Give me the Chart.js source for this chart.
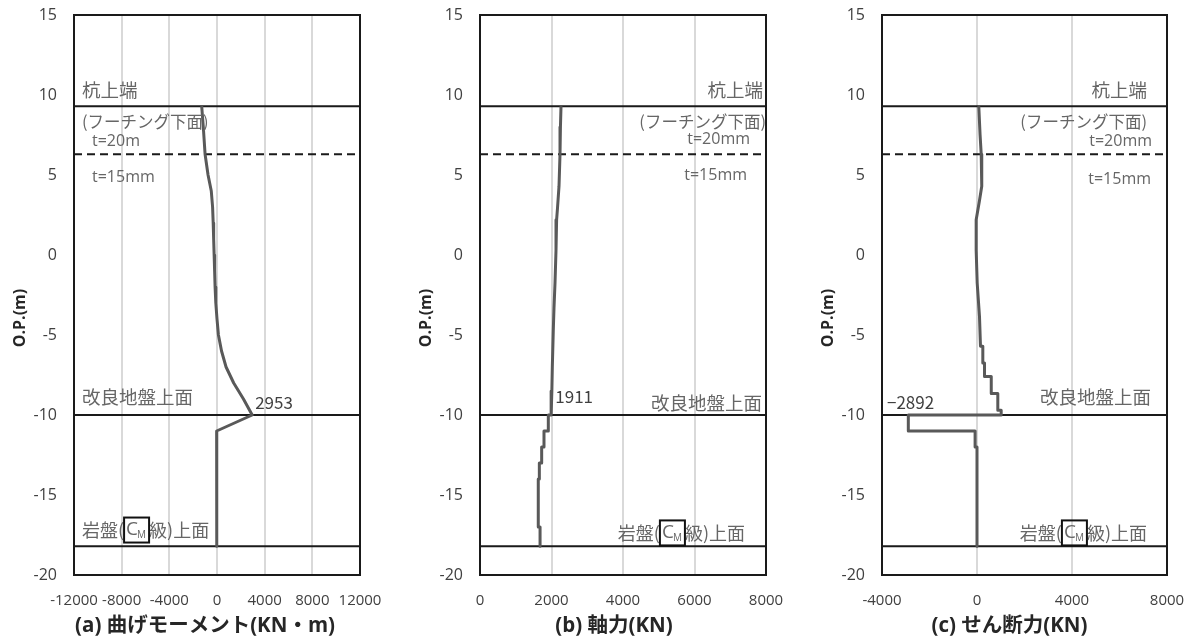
<!DOCTYPE html>
<html><head><meta charset="utf-8">
<script src="https://cdn.jsdelivr.net/npm/chart.js@4.4.1/dist/chart.umd.min.js"></script>
<style>
html,body{margin:0;padding:0;background:#fff;}
#wrap{position:relative;width:1201px;height:641px;overflow:hidden;}
.c{position:absolute;top:0;height:641px;}
</style></head><body>
<div id="wrap">
<div class="c" style="left:0;width:400px"><canvas id="ca"></canvas></div>
<div class="c" style="left:400px;width:400px"><canvas id="cb"></canvas></div>
<div class="c" style="left:800px;width:401px"><canvas id="cc"></canvas></div>
</div>
<script>
// ---- data ----
const yTicks = [-20, -15, -10, -5, 0, 5, 10, 15];
const xTicksA = [-12000, -8000, -4000, 0, 4000, 8000, 12000];
const xTicksB = [0, 2000, 4000, 6000, 8000];
const xTicksC = [-4000, 0, 4000, 8000];

// (a) bending moment
const elevA = [9.3, 8.0, 6.3, 5.0, 4.0, 3.0, 2.0, 1.0, 0.0, -1.0, -2.0, -3.0, -4.0, -5.0, -6.0, -7.0, -8.0, -9.0, -10.0, -11.0, -12.0, -18.2];
const momentA = [-1285, -1150, -1000, -750, -480, -370, -320, -280, -240, -200, -160, -100, 0, 120, 380, 760, 1400, 2220, 2953, -30, -20, -20];

// (b) axial force
const elevB = [9.3, 8.0, 6.3, 4.3, 3.0, 2.2, 0.3, -1.75, -3.3, -4.7, -7.0, -8.5, -10.0, -10.0, -11.0, -11.0, -12.0, -12.0, -13.0, -13.0, -14.0, -14.0, -17.0, -17.0, -18.2];
const axialB = [2266, 2250, 2238, 2210, 2170, 2143, 2126, 2098, 2070, 2050, 2023, 2010, 1990, 1911, 1911, 1790, 1790, 1725, 1725, 1660, 1660, 1630, 1630, 1680, 1680];

// (c) shear force
const elevC = [9.3, 7.5, 6.3, 4.3, 3.4, 2.2, 0.3, -1.75, -3.85, -5.7, -5.7, -6.75, -6.75, -7.6, -7.6, -8.66, -8.66, -9.7, -9.7, -10.0, -10.0, -11.0, -11.0, -12.0, -12.0, -18.2];
const shearC = [75, 130, 177, 200, 105, -35, -35, 8, 105, 147, 245, 245, 316, 316, 600, 600, 876, 876, 1018, 1018, -2892, -2892, -80, -80, 0, 0];

// level lines (O.P. m)
const solidLevels = [9.3, -10, -18.2];
const dashedLevels = [6.3];

// texts
const titleA = "(a) 曲げモーメント(KN・m)";
const titleB = "(b) 軸力(KN)";
const titleC = "(c) せん断力(KN)";
const yTitle = "O.P.(m)";

// ---- drawing helpers ----
const CJK = '"Noto Sans CJK JP", "Open Sans", sans-serif';
const LAT = '"Open Sans", "Noto Sans CJK JP", sans-serif';

function drawRock(ctx, x, y, align) {
  ctx.font = '18px ' + CJK;
  const p1 = "岩盤(", p3 = "級)上面";
  const w1 = ctx.measureText(p1).width, w3 = ctx.measureText(p3).width;
  const bw = 25, bh = 25;
  const total = w1 + bw + w3;
  let x0 = align === 'right' ? x - total : x;
  ctx.textAlign = 'left'; ctx.textBaseline = 'middle';
  ctx.fillStyle = '#666';
  ctx.fillText(p1, x0, y);
  ctx.fillText(p3, x0 + w1 + bw, y);
  ctx.strokeStyle = '#111'; ctx.lineWidth = 2;
  ctx.strokeRect(x0 + w1, y - bh / 2, bw, bh);
  ctx.font = '19px ' + LAT;
  ctx.fillText("C", x0 + w1 + 2, y);
  ctx.font = '10px ' + LAT;
  ctx.fillText("M", x0 + w1 + 13, y + 5);
}

function makeChart(id, cfg) {
  const xs = cfg.xTicks;
  const xMin = xs[0], xMax = xs[xs.length - 1];
  const datasets = [];
  datasets.push({
    data: cfg.vals.map((v, i) => ({ x: v, y: cfg.elev[i] })),
    showLine: true, borderColor: '#595959', borderWidth: 3, pointRadius: 0, borderJoinStyle: 'round'
  });
  solidLevels.forEach(v => datasets.push({
    data: [{ x: xMin, y: v }, { x: xMax, y: v }],
    showLine: true, borderColor: '#1a1a1a', borderWidth: 2, pointRadius: 0
  }));
  dashedLevels.forEach(v => datasets.push({
    data: [{ x: xMin, y: v }, { x: xMax, y: v }],
    showLine: true, borderColor: '#1a1a1a', borderWidth: 2, pointRadius: 0, borderDash: [8, 5]
  }));

  const annot = {
    id: 'annot',
    afterDatasetsDraw(chart) {
      const c = chart.ctx, a = chart.chartArea, sy = chart.scales.y, sx = chart.scales.x;
      c.save();
      cfg.notes.forEach(n => {
        let x;
        if (n.from === 'left') x = a.left + n.dx;
        else if (n.from === 'right') x = a.right + n.dx;
        else x = sx.getPixelForValue(n.xv) + n.dx;
        const y = sy.getPixelForValue(n.yv);
        if (n.rock) { drawRock(c, x, y, n.align); return; }
        c.font = n.font; c.fillStyle = n.color || '#666';
        c.textAlign = n.align; c.textBaseline = 'middle';
        c.fillText(n.text, x, y);
      });
      // frame
      c.strokeStyle = '#1a1a1a'; c.lineWidth = 2;
      c.strokeRect(a.left, a.top, a.right - a.left, a.bottom - a.top);
      // axis titles
      c.fillStyle = '#262626';
      c.font = 'bold 16px ' + LAT;
      c.textAlign = 'center'; c.textBaseline = 'middle';
      c.save();
      c.translate(a.left - 54, (a.top + a.bottom) / 2 + 23);
      c.rotate(-Math.PI / 2);
      c.fillText(yTitle, 0, 0);
      c.restore();
      c.font = 'bold 20.5px ' + LAT;
      c.fillText(cfg.title, (a.left + a.right) / 2 + cfg.titleOff, a.bottom + 51);
      c.restore();
    }
  };

  return new Chart(document.getElementById(id), {
    type: 'scatter',
    data: { datasets },
    options: {
      responsive: true, maintainAspectRatio: false, animation: false,
      layout: { padding: { top: 15, right: cfg.padRight, left: 0, bottom: 0 } },
      plugins: { legend: { display: false }, tooltip: { enabled: false } },
      scales: {
        x: {
          type: 'linear', min: xMin, max: xMax,
          afterBuildTicks: s => { s.ticks = xs.map(v => ({ value: v })); },
          afterFit: s => { s.height = 66; s.paddingLeft = 0; s.paddingRight = 0; },
          ticks: { autoSkip: false, maxRotation: 0, padding: 17, color: '#404040',
                   font: { family: 'Open Sans', size: 15 }, callback: v => String(v) },
          grid: { color: '#d9d9d9', lineWidth: 2, drawTicks: false },
          border: { display: false }
        },
        y: {
          type: 'linear', min: yTicks[0], max: yTicks[yTicks.length - 1],
          afterBuildTicks: s => { s.ticks = yTicks.map(v => ({ value: v })); },
          afterFit: s => { s.width = cfg.yWidth; s.paddingTop = 0; s.paddingBottom = 0; },
          ticks: { padding: 17, color: '#404040', font: { family: 'Open Sans', size: 16 }, callback: v => String(v) },
          grid: { display: false, drawTicks: false },
          border: { display: false }
        }
      }
    },
    plugins: [annot]
  });
}

const F_KANJI = '18.5px ' + CJK;
const F_FOOT = '16.5px ' + CJK;
const F_T = '16px ' + LAT;
const F_NUM = '17px ' + CJK;

makeChart('ca', {
  xTicks: xTicksA, vals: momentA, elev: elevA, yWidth: 74, padRight: 40, title: titleA, titleOff: -12,
  notes: [
    { text: "杭上端", from: 'left', dx: 8, yv: 10.31, align: 'left', font: F_KANJI },
    { text: "(フーチング下面)", from: 'left', dx: 8, yv: 8.3, align: 'left', font: F_FOOT },
    { text: "t=20m", from: 'left', dx: 18, yv: 7.12, align: 'left', font: F_T },
    { text: "t=15mm", from: 'left', dx: 18, yv: 4.87, align: 'left', font: F_T },
    { text: "改良地盤上面", from: 'left', dx: 8, yv: -8.87, align: 'left', font: F_KANJI },
    { text: "2953", from: 'data', xv: 2953, dx: 3, yv: -9.25, align: 'left', font: F_NUM, color: '#404040' },
    { rock: true, from: 'left', dx: 8, yv: -17.19, align: 'left' }
  ]
});

makeChart('cb', {
  xTicks: xTicksB, vals: axialB, elev: elevB, yWidth: 80, padRight: 34, title: titleB, titleOff: -9,
  notes: [
    { text: "杭上端", from: 'right', dx: -3, yv: 10.31, align: 'right', font: F_KANJI },
    { text: "(フーチング下面)", from: 'right', dx: 0, yv: 8.3, align: 'right', font: F_FOOT },
    { text: "t=20mm", from: 'right', dx: -16, yv: 7.25, align: 'right', font: F_T },
    { text: "t=15mm", from: 'right', dx: -19, yv: 5.0, align: 'right', font: F_T },
    { text: "1911", from: 'data', xv: 1911, dx: 7, yv: -8.86, align: 'left', font: F_NUM, color: '#404040' },
    { text: "改良地盤上面", from: 'right', dx: -4, yv: -9.25, align: 'right', font: F_KANJI },
    { rock: true, from: 'right', dx: -21, yv: -17.37, align: 'right' }
  ]
});

makeChart('cc', {
  xTicks: xTicksC, vals: shearC, elev: elevC, yWidth: 82, padRight: 34, title: titleC, titleOff: -15,
  notes: [
    { text: "杭上端", from: 'right', dx: -20, yv: 10.31, align: 'right', font: F_KANJI },
    { text: "(フーチング下面)", from: 'right', dx: -20, yv: 8.3, align: 'right', font: F_FOOT },
    { text: "t=20mm", from: 'right', dx: -15, yv: 7.08, align: 'right', font: F_T },
    { text: "t=15mm", from: 'right', dx: -16, yv: 4.75, align: 'right', font: F_T },
    { text: "−2892", from: 'left', dx: 5, yv: -9.25, align: 'left', font: F_NUM, color: '#404040' },
    { text: "改良地盤上面", from: 'right', dx: -16, yv: -8.86, align: 'right', font: F_KANJI },
    { rock: true, from: 'right', dx: -20, yv: -17.37, align: 'right' }
  ]
});
</script>
</body></html>
